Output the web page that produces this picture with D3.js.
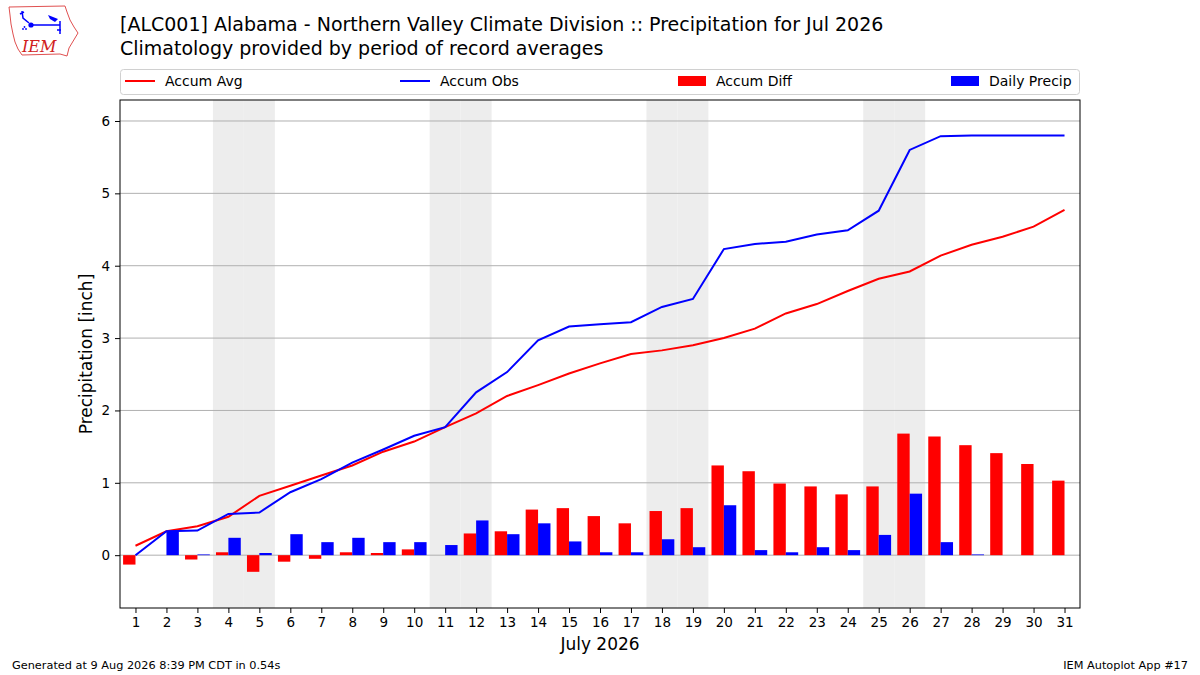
<!DOCTYPE html>
<html>
<head>
<meta charset="utf-8">
<script src="https://cdn.jsdelivr.net/npm/d3@7"></script>
<style>
  body { margin: 0; background: #fff; }
  svg text { font-family: "DejaVu Sans", sans-serif; }
</style>
</head>
<body>
<div id="chart"></div>
<script>
//day of month categories
var days = [1, 2, 3, 4, 5, 6, 7, 8, 9, 10, 11, 12, 13, 14, 15, 16,
  17, 18, 19, 20, 21, 22, 23, 24, 25, 26, 27, 28, 29, 30, 31];

//weekend days, shaded
var weekends = [4, 5, 11, 12, 18, 19, 25, 26];

//series
var accumAvg = [0.13, 0.33, 0.40, 0.53, 0.82, 0.96, 1.10, 1.24, 1.43, 1.57, 1.77,
  1.96, 2.20, 2.35, 2.51, 2.65, 2.78, 2.83, 2.90, 3.00, 3.13, 3.34, 3.47, 3.65,
  3.82, 3.92, 4.14, 4.29, 4.40, 4.54, 4.77];
var accumObs = [0.00, 0.33, 0.34, 0.57, 0.59, 0.87, 1.05, 1.28, 1.46, 1.65, 1.77,
  2.25, 2.53, 2.97, 3.16, 3.19, 3.22, 3.43, 3.54, 4.23, 4.30, 4.33, 4.43, 4.49,
  4.76, 5.60, 5.79, 5.80, 5.80, 5.80, 5.80];
var accumDiff = [-0.13, 0.00, -0.06, 0.04, -0.23, -0.09, -0.05, 0.04, 0.03, 0.08, 0.00,
  0.30, 0.33, 0.63, 0.65, 0.54, 0.44, 0.61, 0.65, 1.24, 1.16, 0.99, 0.95, 0.84,
  0.95, 1.68, 1.64, 1.52, 1.41, 1.26, 1.03];
var dailyPrecip = [0.00, 0.33, 0.01, 0.24, 0.03, 0.29, 0.18, 0.24, 0.18, 0.18, 0.14,
  0.48, 0.29, 0.44, 0.19, 0.04, 0.04, 0.22, 0.11, 0.69, 0.07, 0.04, 0.11, 0.07,
  0.28, 0.85, 0.18, 0.01, 0.00, 0.00, 0.00];

var yTicks = [0, 1, 2, 3, 4, 5, 6];

//legend entries
var legendItems = [
  {label: 'Accum Avg', kind: 'line', color: 'red'},
  {label: 'Accum Obs', kind: 'line', color: 'blue'},
  {label: 'Accum Diff', kind: 'patch', color: 'red'},
  {label: 'Daily Precip', kind: 'patch', color: 'blue'}
];

var w = 1200;
var h = 675;
var pLeft = 120, pRight = 1080, pTop = 100, pBottom = 608;
var barW = 0.4;

var xScale = d3.scaleLinear().domain([0.5, 31.5]).range([pLeft, pRight]);
var yScale = d3.scaleLinear().domain([-0.73, 6.29]).range([pBottom, pTop]);

var svg = d3.select('#chart')
  .append('svg')
  .attr('width', w)
  .attr('height', h);

//logo, rough version of the IEM badge
var logo = svg.append('g');
logo.append('path')
  .attr('d', 'M9,7 L65,6 L67,12 L70,20 L74,27 L78,33 L75,38 L72,43 L69,48 L67,56 L60,54 L22,55 L18,49 L15,42 L13,34 L11,24 L10,15 Z')
  .attr('fill', 'none')
  .attr('stroke', '#e05050')
  .attr('stroke-width', 1);
logo.append('path')
  .attr('d', 'M31,25 L60,25 M60,21 L60,34 M57,30 L61,30 M22,11 L23,18 L29,23 M20,14 L24,12')
  .attr('fill', 'none')
  .attr('stroke', 'blue')
  .attr('stroke-width', 1.5);
logo.append('path')
  .attr('d', 'M48,15 L58,19 L55,22 L50,19 Z')
  .attr('fill', 'blue');
logo.append('circle').attr('cx', 31).attr('cy', 25).attr('r', 2.6).attr('fill', 'blue');
[[23, 29], [26, 29], [24.5, 27]].forEach(function(p) {
  logo.append('circle').attr('cx', p[0]).attr('cy', p[1]).attr('r', 0.9).attr('fill', 'blue');
});
logo.append('text')
  .attr('x', 22).attr('y', 52)
  .style('font-family', '"DejaVu Serif", serif')
  .style('font-style', 'italic')
  .style('font-size', '16px')
  .attr('fill', '#d02020')
  .text('IEM');

//titles
svg.append('text')
  .attr('x', 120).attr('y', 31)
  .style('font-size', '19px')
  .text('[ALC001] Alabama - Northern Valley Climate Division :: Precipitation for Jul 2026');
svg.append('text')
  .attr('x', 120).attr('y', 55)
  .style('font-size', '19px')
  .text('Climatology provided by period of record averages');

//shaded weekend bands
svg.selectAll('rect.wkend')
  .data(weekends)
  .enter()
  .append('rect')
  .attr('class', 'wkend')
  .attr('x', function(d) { return xScale(d - 0.5); })
  .attr('y', pTop)
  .attr('width', xScale(1.5) - xScale(0.5))
  .attr('height', pBottom - pTop)
  .attr('fill', '#ededed');

//horizontal grid
svg.selectAll('line.grid')
  .data(yTicks)
  .enter()
  .append('line')
  .attr('class', 'grid')
  .attr('x1', pLeft).attr('x2', pRight)
  .attr('y1', function(d) { return yScale(d); })
  .attr('y2', function(d) { return yScale(d); })
  .attr('stroke', '#b0b0b0')
  .attr('stroke-width', 1);

//accum diff bars, left of the day
svg.selectAll('rect.diff')
  .data(days)
  .enter()
  .append('rect')
  .attr('class', 'diff')
  .attr('x', function(d) { return xScale(d - barW); })
  .attr('y', function(d, i) { return yScale(Math.max(0, accumDiff[i])); })
  .attr('width', xScale(barW) - xScale(0))
  .attr('height', function(d, i) { return Math.abs(yScale(accumDiff[i]) - yScale(0)); })
  .attr('fill', 'red');

//daily precip bars, right of the day
svg.selectAll('rect.daily')
  .data(days)
  .enter()
  .append('rect')
  .attr('class', 'daily')
  .attr('x', function(d) { return xScale(d); })
  .attr('y', function(d, i) { return yScale(dailyPrecip[i]); })
  .attr('width', xScale(barW) - xScale(0))
  .attr('height', function(d, i) { return yScale(0) - yScale(dailyPrecip[i]); })
  .attr('fill', 'blue');

//accum lines
var line = function(vals) {
  return d3.line()
    .x(function(d) { return xScale(d); })
    .y(function(d, i) { return yScale(vals[i]); })(days);
};
svg.append('path')
  .attr('d', line(accumAvg))
  .attr('fill', 'none')
  .attr('stroke', 'red')
  .attr('stroke-width', 2);
svg.append('path')
  .attr('d', line(accumObs))
  .attr('fill', 'none')
  .attr('stroke', 'blue')
  .attr('stroke-width', 2);

//axes
var xAxis = d3.axisBottom(xScale).tickValues(days).tickFormat(d3.format('d')).tickSize(5).tickPadding(4);
var yAxis = d3.axisLeft(yScale).tickValues(yTicks).tickFormat(d3.format('d')).tickSize(5).tickPadding(5);

var gx = svg.append('g')
  .attr('transform', 'translate(0,' + pBottom + ')')
  .call(xAxis);
var gy = svg.append('g')
  .attr('transform', 'translate(' + pLeft + ',0)')
  .call(yAxis);
[gx, gy].forEach(function(g) {
  g.select('.domain').remove();
  g.selectAll('text')
    .style('font-size', '13.5px')
    .style('font-family', '"DejaVu Sans", sans-serif')
    .attr('fill', '#000');
  g.selectAll('line').attr('stroke', '#000');
});

//plot frame
svg.append('rect')
  .attr('x', pLeft).attr('y', pTop)
  .attr('width', pRight - pLeft).attr('height', pBottom - pTop)
  .attr('fill', 'none')
  .attr('stroke', '#000')
  .attr('stroke-width', 1);

//axis labels
svg.append('text')
  .attr('x', (pLeft + pRight) / 2).attr('y', 650)
  .attr('text-anchor', 'middle')
  .style('font-size', '17px')
  .text('July 2026');
svg.append('text')
  .attr('transform', 'translate(92,' + (pTop + pBottom) / 2 + ') rotate(-90)')
  .attr('text-anchor', 'middle')
  .style('font-size', '17px')
  .text('Precipitation [inch]');

//legend
svg.append('rect')
  .attr('x', 120.5).attr('y', 69.5)
  .attr('width', 959).attr('height', 25)
  .attr('rx', 3)
  .attr('fill', '#fff')
  .attr('stroke', '#d0d0d0');
var legendX = [125, 400, 678, 951];
var lg = svg.selectAll('g.leg')
  .data(legendItems)
  .enter()
  .append('g')
  .attr('class', 'leg')
  .attr('transform', function(d, i) { return 'translate(' + legendX[i] + ',81)'; });
lg.each(function(d) {
  var g = d3.select(this);
  if (d.kind == 'line') {
    g.append('line').attr('x1', 0).attr('x2', 30).attr('y1', 0).attr('y2', 0)
      .attr('stroke', d.color).attr('stroke-width', 2);
  } else {
    g.append('rect').attr('x', 0).attr('y', -5).attr('width', 28).attr('height', 10)
      .attr('fill', d.color);
  }
  g.append('text')
    .attr('x', d.kind == 'line' ? 40 : 38).attr('y', 5)
    .style('font-size', '14px')
    .text(d.label);
});

//footer
svg.append('text')
  .attr('x', 12).attr('y', 669)
  .style('font-size', '11.3px')
  .text('Generated at 9 Aug 2026 8:39 PM CDT in 0.54s');
svg.append('text')
  .attr('x', 1188).attr('y', 669)
  .attr('text-anchor', 'end')
  .style('font-size', '11.3px')
  .text('IEM Autoplot App #17');
</script>
</body>
</html>
